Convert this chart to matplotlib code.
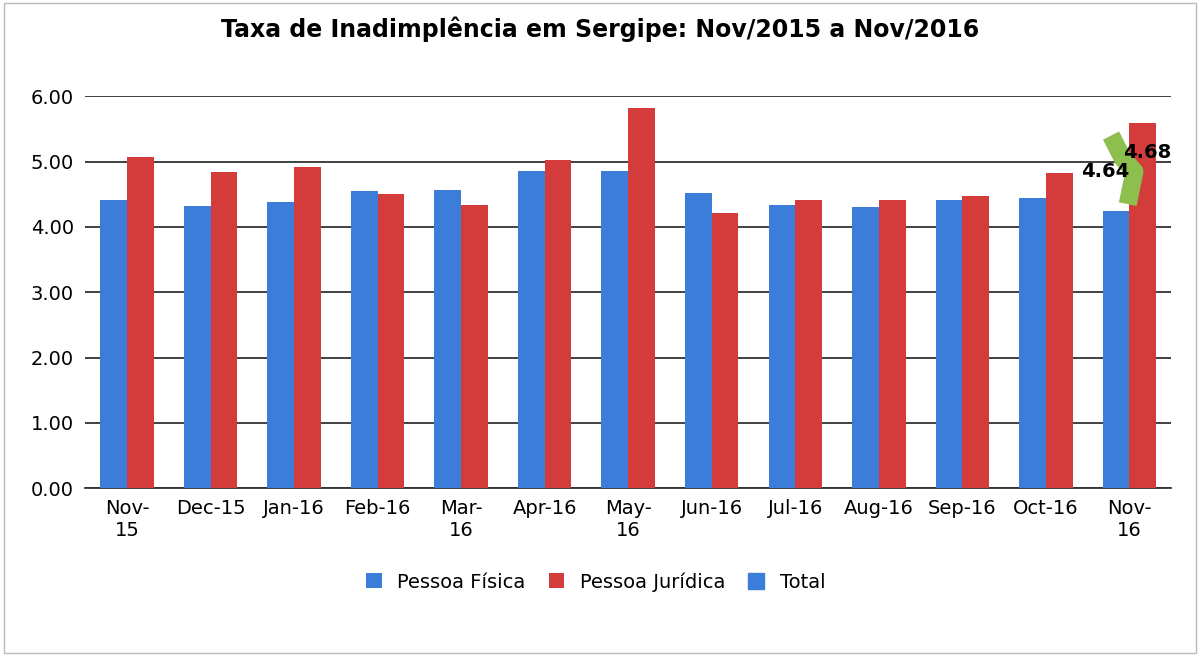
import matplotlib
matplotlib.use("Agg")
import matplotlib.pyplot as plt
import numpy as np

categories = ["Nov-\n15", "Dec-15", "Jan-16", "Feb-16", "Mar-\n16", "Apr-16", "May-\n16",
              "Jun-16", "Jul-16", "Aug-16", "Sep-16", "Oct-16", "Nov-\n16"]
pessoa_fisica = [4.42, 4.32, 4.38, 4.55, 4.56, 4.85, 4.86, 4.52, 4.34, 4.30, 4.42, 4.45, 4.25]
pessoa_juridica = [5.07, 4.84, 4.92, 4.50, 4.33, 5.03, 5.82, 4.22, 4.42, 4.42, 4.47, 4.82, 5.60]
total_labels = ["4.64", "4.68"]

fig = plt.figure(figsize=(12, 6.56), dpi=100)
ax = fig.add_axes([0.071, 0.256, 0.905, 0.597])
x = np.arange(len(categories))
w = 0.32
b1 = ax.bar(x - w/2, pessoa_fisica, w, color="#3B7DD8", label="Pessoa Física", zorder=3)
b2 = ax.bar(x + w/2, pessoa_juridica, w, color="#D43B3B", label="Pessoa Jurídica", zorder=3)
# distorted Total marker near last category
ax.plot([11.78, 11.92, 12.06, 11.98], [5.4, 5.05, 4.85, 4.35], color="#8DBF4E", lw=13,
        solid_capstyle="butt", zorder=4)
h3, = ax.plot([], [], color="#3B7DD8", lw=0, marker="s", markersize=11, label="Total")
ax.text(12.0, 4.85, total_labels[0], ha="right", va="center",
        fontsize=14, fontweight="bold", zorder=5)
ax.text(11.92, 5.14, total_labels[1], ha="left", va="center",
        fontsize=14, fontweight="bold", zorder=5)

ax.set_ylim(0, 6)
ax.set_xlim(-0.5, 12.5)
ax.set_yticks(np.arange(0, 7, 1))
ax.set_yticklabels([f"{v:.2f}" for v in np.arange(0, 7, 1)], fontsize=14)
ax.set_xticks(x)
ax.set_xticklabels(categories, fontsize=14)
ax.tick_params(length=0, pad=8)
ax.yaxis.grid(True, color="#333333", lw=1.3, zorder=0)
for s in ["top", "right", "left"]:
    ax.spines[s].set_visible(False)
ax.spines["bottom"].set_color("#333333")
ax.spines["bottom"].set_linewidth(1.3)
fig.text(0.5, 0.955, "Taxa de Inadimplência em Sergipe: Nov/2015 a Nov/2016",
         ha="center", va="center", fontsize=17, fontweight="bold")
ax.legend(handles=[b1, b2, h3], loc="upper center", bbox_to_anchor=(0.47, -0.17), ncol=3,
          frameon=False, fontsize=14, handlelength=0.8, handleheight=0.8, columnspacing=1.2)
fig.patches.append(plt.Rectangle((0.003, 0.005), 0.994, 0.99, transform=fig.transFigure,
                                 fill=False, edgecolor="#BBBBBB", lw=1))
fig.savefig("out.png")
